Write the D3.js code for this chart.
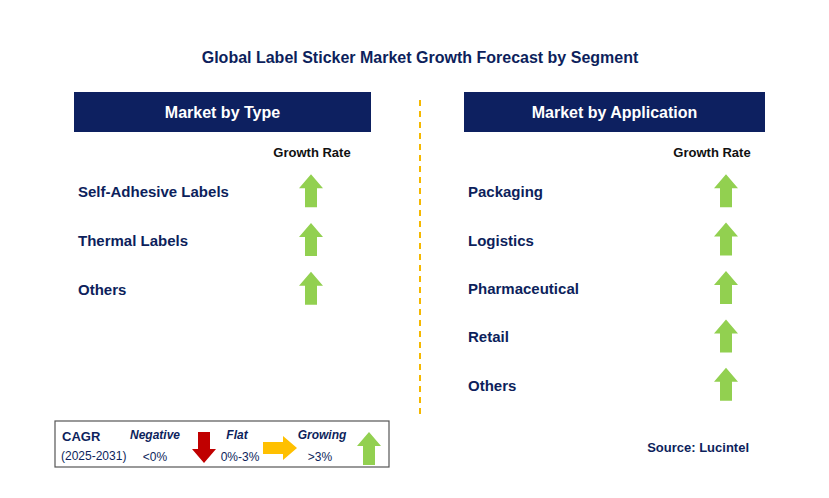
<!DOCTYPE html><html><head><meta charset="utf-8"><script src="https://cdn.jsdelivr.net/npm/d3@7"></script>
<style>body{margin:0;background:#fff}text{font-family:Arial,"Liberation Sans",sans-serif}</style></head><body>
<script>
const title="Global Label Sticker Market Growth Forecast by Segment";
const typeCategories=["Self-Adhesive Labels","Thermal Labels","Others"];
const typeGrowth=["growing","growing","growing"];
const appCategories=["Packaging","Logistics","Pharmaceutical","Retail","Others"];
const appGrowth=["growing","growing","growing","growing","growing"];
const W=829,H=498,navy="#0d1f5c",green="#92d050";
const svg=d3.select("body").append("svg").attr("width",W).attr("height",H);
svg.append("text").attr("x",420).attr("y",63).attr("text-anchor","middle").attr("font-size",16).attr("font-weight","bold").attr("fill",navy).text(title);
svg.append("line").attr("x1",420).attr("x2",420).attr("y1",100).attr("y2",415).attr("stroke","#f5b800").attr("stroke-width",2).attr("stroke-dasharray","6,5");
function up(g,cx,top,c){const hw=12,sw=6,hh=14,h=33;
 g.append("path").attr("d",`M${cx},${top} L${cx+hw},${top+hh} L${cx+sw},${top+hh} L${cx+sw},${top+h} L${cx-sw},${top+h} L${cx-sw},${top+hh} L${cx-hw},${top+hh}Z`).attr("fill",c);}
function panel(x0,w,header,cats,arrowX,grX,y){
 svg.append("rect").attr("x",x0).attr("y",92).attr("width",w).attr("height",40).attr("fill","#0d2060");
 svg.append("text").attr("x",x0+w/2).attr("y",118).attr("text-anchor","middle").attr("fill","#fff").attr("font-size",16).attr("font-weight","bold").text(header);
 svg.append("text").attr("x",grX).attr("y",157).attr("text-anchor","middle").attr("font-size",13).attr("font-weight","bold").attr("fill","#111").text("Growth Rate");
 cats.forEach(c=>{const yc=y(c)+y.bandwidth()/2;
  svg.append("text").attr("x",x0+4).attr("y",yc+6).attr("font-size",15).attr("font-weight","bold").attr("fill",navy).text(c);
  up(svg,arrowX,yc-17,green);});
}
const y1=d3.scaleBand().domain(typeCategories).range([167,313]);
panel(74,297,"Market by Type",typeCategories,311,312,y1);
const y2=d3.scaleBand().domain(appCategories).range([167,409]);
panel(464,301,"Market by Application",appCategories,726,712,y2);
const L=svg.append("g");
L.append("rect").attr("x",55).attr("y",421).attr("width",334).attr("height",46).attr("fill","#fff").attr("stroke","#555").attr("stroke-width",1.2);
const t=(x,y,s,o={})=>L.append("text").attr("x",x).attr("y",y).attr("font-size",o.fs||12).attr("font-weight",o.b?"bold":"normal").attr("font-style",o.i?"italic":"normal").attr("fill",navy).attr("text-anchor",o.a||"start").text(s);
t(62,441,"CAGR",{b:1,fs:13});t(61,460,"(2025-2031)");
t(155,439,"Negative",{b:1,i:1,a:"middle"});t(155,461,"<0%",{a:"middle"});
t(237,439,"Flat",{b:1,i:1,a:"middle"});t(240,461,"0%-3%",{a:"middle"});
t(322,439,"Growing",{b:1,i:1,a:"middle"});t(320,461,">3%",{a:"middle"});
L.append("path").attr("d","M198,432 L210,432 L210,449 L216,449 L204,463 L192,449 L198,449Z").attr("fill","#c00000");
L.append("path").attr("d","M263,442 L283,442 L283,436 L297,448 L283,460 L283,454 L263,454Z").attr("fill","#ffc000");
up(L,369,432,green);
svg.append("text").attr("x",749).attr("y",452).attr("text-anchor","end").attr("font-size",13).attr("font-weight","bold").attr("fill",navy).text("Source: Lucintel");
</script></body></html>
